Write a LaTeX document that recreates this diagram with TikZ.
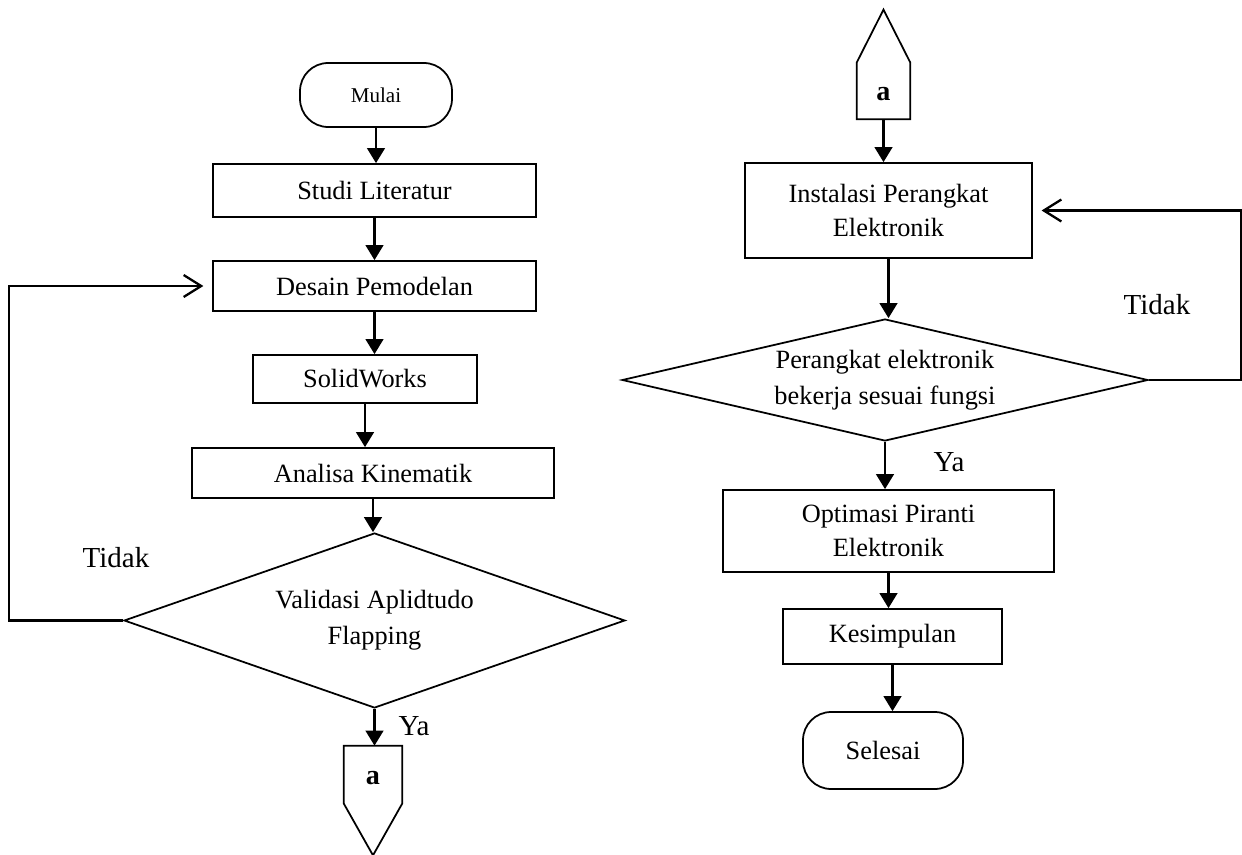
\documentclass[tikz,border=0pt]{standalone}
\usepackage{fontspec}
\setmainfont{Liberation Serif}
\usetikzlibrary{shapes,arrows,positioning,calc,arrows.meta}

\begin{document}
\begin{tikzpicture}[x=0.02cm, y=-0.02cm,
    kotak/.style={draw, line width=1pt, align=center, inner sep=0pt, font=\fontsize{15}{19.5}\selectfont},
    terminal/.style={kotak, rounded corners=16pt},
    keputusan/.style={draw, diamond, line width=1pt, align=center, inner sep=0pt, font=\fontsize{15}{20.5}\selectfont},
    konektor/.style={inner sep=0pt, text height=11pt, text depth=0pt, font=\fontsize{16}{19}\selectfont\bfseries},
    ket/.style={font=\fontsize{16.5}{20}\selectfont},
    panah/.style={line width=1.3pt, -{Triangle[length=8.5pt,width=10pt]}},
    balik/.style={line width=1.3pt, -{Straight Barb[length=10pt,width=12.5pt]}, shorten >=5pt}]
    \useasboundingbox (0,0) rectangle (1242,855);

    % Kolom kiri
    \node[terminal, minimum width=3.04cm, minimum height=1.28cm, font=\fontsize{12}{14}\selectfont] (mulai) at (376,95) {Mulai};
    \node[kotak, minimum width=6.46cm, minimum height=1.06cm] (studi) at (374.5,190.5) {Studi Literatur};
    \node[kotak, minimum width=6.46cm, minimum height=1.0cm] (desain) at (374.5,286) {Desain Pemodelan};
    \node[kotak, minimum width=4.48cm, minimum height=0.96cm] (solid) at (365,379) {SolidWorks};
    \node[kotak, minimum width=7.24cm, minimum height=1.0cm] (analisa) at (373,473) {Analisa Kinematik};
    \node[keputusan, aspect=2.86, minimum width=10.02cm, minimum height=3.5cm] (validasi) at (374.5,620.5) {Validasi Aplidtudo\\Flapping};
    \node[konektor, minimum width=1.16cm, minimum height=1.14cm] (konA) at (373,774.5) {a};
    \draw[line width=1pt] (konA.north west) -- (konA.north east) -- (konA.south east) -- ($(konA.south)+(0,52)$) -- (konA.south west) -- cycle;

    \draw[panah] (mulai) -- (mulai |- studi.north);
    \draw[panah] (studi) -- (studi |- desain.north);
    \draw[panah] (desain) -- (desain |- solid.north);
    \draw[panah] (solid) -- (solid |- analisa.north);
    \draw[panah] (analisa) -- (analisa |- validasi.north);
    \draw[panah] (validasi.south) -- (validasi.south |- konA.north);
    \draw[balik] (validasi.west) -- ++(-114,0) |- (desain.west);
    \node[ket] (tidakKiri) at (116,558) {Tidak};
    \node[ket] (yaKiri) at (414,726) {Ya};

    % Kolom kanan
    \node[konektor, minimum width=1.06cm, minimum height=1.12cm] (konB) at (883.5,91) {a};
    \draw[line width=1pt] (konB.south west) -- (konB.south east) -- (konB.north east) -- ($(konB.north)+(0,-53)$) -- (konB.north west) -- cycle;
    \node[kotak, minimum width=5.74cm, minimum height=1.9cm] (instal) at (888.5,210.5) {Instalasi Perangkat\\Elektronik};
    \node[keputusan, aspect=4.31, minimum width=10.52cm, minimum height=2.44cm] (perangkat) at (885,380) {Perangkat elektronik\\bekerja sesuai fungsi};
    \node[kotak, minimum width=6.62cm, minimum height=1.64cm] (optimasi) at (888.5,531) {Optimasi Piranti\\Elektronik};
    \node[kotak, minimum width=4.38cm, minimum height=1.1cm] (kesimpulan) at (892.5,636.5) {Kesimpulan};
    \node[terminal, minimum width=3.2cm, minimum height=1.54cm] (selesai) at (883,750.5) {Selesai};

    \draw[panah] (konB) -- (konB |- instal.north);
    \draw[panah] (instal) -- (instal |- perangkat.north);
    \draw[panah] (perangkat.south) -- (perangkat.south |- optimasi.north);
    \draw[panah] (optimasi) -- (optimasi |- kesimpulan.north);
    \draw[panah] (kesimpulan) -- (kesimpulan |- selesai.north);
    \draw[balik] (perangkat.east) -- ++(92,0) |- (instal.east);
    \node[ket] (tidakKanan) at (1157,305) {Tidak};
    \node[ket] (yaKanan) at (949,462) {Ya};
\end{tikzpicture}
\end{document}
